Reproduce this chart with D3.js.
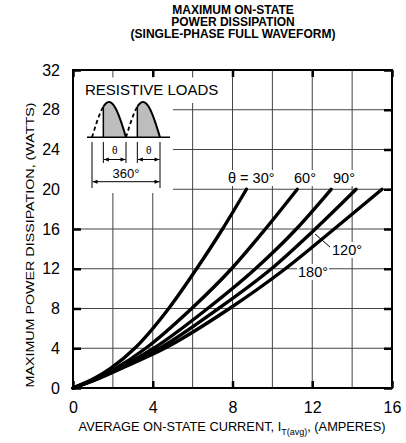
<!DOCTYPE html>
<html>
<head>
<meta charset="utf-8">
<script src="https://cdn.jsdelivr.net/npm/d3@7"></script>
<style>
  body { margin: 0; background: #fff; }
  text { font-family: "Liberation Sans", Arial, sans-serif; fill: #000; }
</style>
</head>
<body>
<div id="chart"></div>
<script>
// data: current (A) where each curve crosses a power level (W)
const angles = ["30°", "60°", "90°", "120°", "180°"]
const powerLevels = [0, 1, 2, 4, 8, 12, 16, 20]
const current30 = [0, 1.1, 1.9, 3.1, 4.8, 6.2, 7.5, 8.7]
const current60 = [0, 1.2, 2.15, 3.65, 5.95, 7.95, 9.65, 11.25]
const current90 = [0, 1.25, 2.3, 4.05, 6.75, 9.15, 11.2, 12.95]
const current120 = [0, 1.3, 2.4, 4.35, 7.3, 9.95, 12.15, 14.2]
const current180 = [0, 1.33, 2.45, 4.6, 7.85, 10.65, 13.1, 15.5]
const xTicks = [0, 4, 8, 12, 16]
const yTicks = [0, 4, 8, 12, 16, 20, 24, 28, 32]
const xGrid = [2, 4, 6, 8, 10, 12, 14]
const yGrid = [4, 8, 12, 16, 20, 24, 28]

const MARGIN = { LEFT: 73, RIGHT: 14, TOP: 70, BOTTOM: 55 }
const WIDTH = 406 - MARGIN.LEFT - MARGIN.RIGHT
const HEIGHT = 443 - MARGIN.TOP - MARGIN.BOTTOM

const svg = d3.select("#chart").append("svg")
    .attr("width", 406)
    .attr("height", 443)

const g = svg.append("g")
    .attr("transform", `translate(${MARGIN.LEFT}, ${MARGIN.TOP})`)

// Scales
const x = d3.scaleLinear().domain([0, 16]).range([0, WIDTH])
const y = d3.scaleLinear().domain([0, 32]).range([HEIGHT, 0])

// Title
const title = svg.append("text")
    .attr("x", 233)
    .attr("text-anchor", "middle")
    .attr("font-size", "12px")
    .attr("font-weight", "bold")
;["MAXIMUM ON-STATE", "POWER DISSIPATION", "(SINGLE-PHASE FULL WAVEFORM)"].forEach((t, i) => {
    title.append("tspan").attr("x", 233).attr("y", 14 + i * 12).text(t)
})

// Grid
g.selectAll(".vgrid").data(xGrid).enter().append("line")
    .attr("x1", d => x(d)).attr("x2", d => x(d))
    .attr("y1", 0).attr("y2", HEIGHT)
    .attr("stroke", "#444").attr("stroke-width", 1)
g.selectAll(".hgrid").data(yGrid).enter().append("line")
    .attr("x1", 0).attr("x2", WIDTH)
    .attr("y1", d => y(d)).attr("y2", d => y(d))
    .attr("stroke", "#444").attr("stroke-width", 1)

// Axes with inward ticks
const xAxisCall = d3.axisBottom(x).tickValues(xTicks).tickSize(-7).tickPadding(14)
const xAxis = g.append("g")
    .attr("transform", `translate(0, ${HEIGHT})`)
    .call(xAxisCall)
const yAxisCall = d3.axisLeft(y).tickValues(yTicks).tickSize(-8).tickPadding(13)
const yAxis = g.append("g").call(yAxisCall)
const topAxis = g.append("g").call(d3.axisTop(x).tickValues(xTicks).tickSize(-7).tickFormat(""))
const rightAxis = g.append("g")
    .attr("transform", `translate(${WIDTH}, 0)`)
    .call(d3.axisRight(y).tickValues(yTicks).tickSize(-8).tickFormat(""))
;[xAxis, yAxis, topAxis, rightAxis].forEach(a => {
    a.select(".domain").remove()
    a.selectAll(".tick line").attr("stroke", "#000").attr("stroke-width", 2.5)
    a.selectAll(".tick text").attr("font-size", "16px").attr("font-family", "Liberation Sans, Arial, sans-serif")
})

// Inset box hides the grid
g.append("rect").attr("x", 1).attr("y", 7.5).attr("width", 99).attr("height", 115.5).attr("fill", "#fff")
g.append("rect").attr("x", 99).attr("y", 7.5).attr("width", 50).attr("height", 25.5).attr("fill", "#fff")

// Curves
const line = d3.line()
    .x(d => x(d[0]))
    .y(d => y(d[1]))
    .curve(d3.curveMonotoneX)
const currents = [current30, current60, current90, current120, current180]
currents.forEach(c => {
    g.append("path")
        .datum(c.map((v, i) => [v, powerLevels[i]]))
        .attr("d", line)
        .attr("fill", "none")
        .attr("stroke", "#000")
        .attr("stroke-width", 3.4)
        .attr("stroke-linecap", "round")
})

// Frame
g.append("rect")
    .attr("width", WIDTH).attr("height", HEIGHT)
    .attr("fill", "none").attr("stroke", "#000").attr("stroke-width", 2)

// Curve labels with white background
function label(txt, lx, ly) {
    const t = svg.append("text").attr("x", lx).attr("y", ly).attr("font-size", "14.5px").text(txt)
    const b = t.node().getBBox()
    svg.insert("rect", () => t.node())
        .attr("x", b.x - 1).attr("y", b.y).attr("width", b.width + 2).attr("height", b.height)
        .attr("fill", "#fff")
}
label("θ = " + angles[0], 228, 183)
label(angles[1], 294, 183)
label(angles[2], 333, 183)
svg.append("line").attr("x1", 315).attr("y1", 234).attr("x2", 330).attr("y2", 247)
    .attr("stroke", "#000").attr("stroke-width", 1)
label(angles[3], 332, 255)
label(angles[4], 298, 277)

// Inset: resistive load waveform
svg.append("text").attr("x", 85).attr("y", 95).attr("font-size", "15px").text("RESISTIVE LOADS")
const ph = d3.scaleLinear().domain([0, 360]).range([92, 160])
const amp = d3.scaleLinear().domain([0, 1]).range([137.3, 102])
const base = 137.3
const firing = 60
const hump = (a0, a1) => d3.range(a0, a1 + 0.1, 5).map(a => [ph(a), amp(Math.sin((a % 180) * Math.PI / 180))])
const wave = d3.line().x(d => d[0]).y(d => d[1])
;[0, 180].forEach(s => {
    const on = hump(s + firing, s + 180)
    svg.append("path")
        .attr("d", wave([[ph(s + firing), base]].concat(on).concat([[ph(s + 180), base]])))
        .attr("fill", "#bdbdbd").attr("stroke", "none")
    svg.append("path").attr("d", wave(on)).attr("fill", "none").attr("stroke", "#000").attr("stroke-width", 2)
    svg.append("path").attr("d", wave(hump(s, s + firing))).attr("fill", "none")
        .attr("stroke", "#000").attr("stroke-width", 1.8).attr("stroke-dasharray", "4,3")
    svg.append("line").attr("x1", ph(s + firing)).attr("x2", ph(s + firing))
        .attr("y1", amp(Math.sin(firing * Math.PI / 180))).attr("y2", base)
        .attr("stroke", "#000").attr("stroke-width", 1.5)
})
svg.append("line").attr("x1", 87).attr("x2", 170).attr("y1", base).attr("y2", base)
    .attr("stroke", "#000").attr("stroke-width", 1.5)

// Dimension marks
const defs = svg.append("defs")
defs.append("marker").attr("id", "arr").attr("viewBox", "0 0 10 10").attr("refX", 10).attr("refY", 5)
    .attr("markerWidth", 6).attr("markerHeight", 5).attr("orient", "auto-start-reverse")
    .append("path").attr("d", "M0,1 L10,5 L0,9 Z").attr("fill", "#000")
const dim = svg.append("g").attr("stroke", "#000").attr("stroke-width", 1)
;[[ph(0), 188], [ph(firing), 163], [ph(180), 163], [ph(180 + firing), 163], [ph(360), 188]].forEach(([lx, ly]) => {
    dim.append("line").attr("x1", lx).attr("x2", lx).attr("y1", 142).attr("y2", ly)
})
;[[ph(firing), ph(180), 159.5], [ph(180 + firing), ph(360), 159.5], [ph(0), ph(360), 181.7]].forEach(([a, b, ly]) => {
    dim.append("line").attr("x1", a + 0.5).attr("x2", b - 0.5).attr("y1", ly).attr("y2", ly)
        .attr("marker-start", "url(#arr)").attr("marker-end", "url(#arr)")
})
;[(ph(firing) + ph(180)) / 2, (ph(180 + firing) + ph(360)) / 2].forEach(cx => {
    svg.append("text").attr("x", cx).attr("y", 154).attr("text-anchor", "middle")
        .attr("font-size", "10px").attr("font-family", "DejaVu Serif, serif").text("θ")
})
svg.append("text").attr("x", 126).attr("y", 178).attr("text-anchor", "middle")
    .attr("font-size", "13px").text("360°")

// Axis titles
const xLabel = svg.append("text")
    .attr("x", 232).attr("y", 431)
    .attr("text-anchor", "middle")
    .attr("font-size", "12.8px")
xLabel.append("tspan").text("AVERAGE ON-STATE CURRENT, I")
xLabel.append("tspan").attr("font-size", "9px").attr("dy", 4).text("T(avg)")
xLabel.append("tspan").attr("dy", -4).text(", (AMPERES)")

svg.append("text")
    .attr("transform", "translate(33.5, 245) rotate(-90)")
    .attr("text-anchor", "middle")
    .attr("font-size", "11px")
    .attr("textLength", 285)
    .attr("lengthAdjust", "spacingAndGlyphs")
    .text("MAXIMUM POWER DISSIPATION, (WATTS)")
</script>
</body>
</html>
